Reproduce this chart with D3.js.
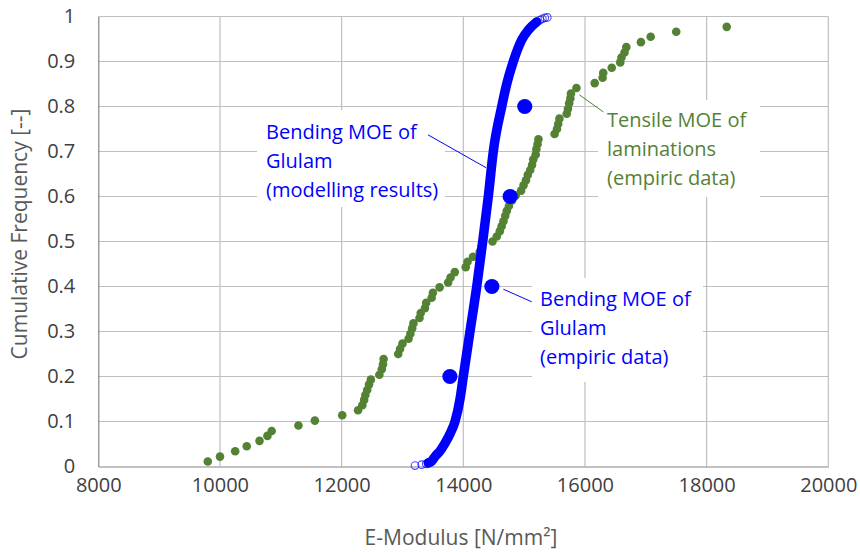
<!DOCTYPE html>
<html><head><meta charset="utf-8">
<script src="https://cdn.jsdelivr.net/npm/d3@7"></script>
<style>body{margin:0;background:#fff} svg text{font-family:"Open Sans", sans-serif}</style>
</head><body><svg id="c" width="860" height="552"></svg>
<script>
const xTicks = [8000,10000,12000,14000,16000,18000,20000];
const yTicks = [0,0.1,0.2,0.3,0.4,0.5,0.6,0.7,0.8,0.9,1];

// Tensile MOE of laminations (empiric data)
const tensileX = [9800,10000,10250,10440,10650,10780,10850,11290,11560,12010,12270,12340,12370,12390,12420,12450,12480,12620,12660,12680,12690,12930,12960,13000,13100,13130,13160,13180,13280,13300,13370,13390,13480,13500,13610,13750,13790,13860,14040,14070,14160,14270,14300,14480,
14550,14600,14630,14660,14690,14715,14750,14800,14860,14950,14990,15030,15060,15100,15130,15150,15190,15200,15220,15235,15500,15540,15560,15580,15700,15720,15740,15760,15770,15860,16160,16290,16300,16440,16580,16600,16650,16680,16920,17080,17500,18330];
const tensileY = [0.011,0.022,0.034,0.045,0.057,0.068,0.079,0.091,0.102,0.114,0.125,0.136,0.148,0.159,0.170,0.182,0.193,0.204,0.216,0.227,0.239,0.250,0.261,0.273,0.284,0.295,0.307,0.318,0.330,0.341,0.352,0.364,0.375,0.386,0.398,0.409,0.420,0.432,0.443,0.455,0.466,0.477,0.489,0.500,
0.511,0.523,0.534,0.545,0.557,0.568,0.579,0.591,0.602,0.613,0.625,0.636,0.648,0.659,0.670,0.682,0.693,0.705,0.716,0.727,0.739,0.750,0.761,0.773,0.784,0.795,0.807,0.818,0.829,0.841,0.852,0.864,0.875,0.886,0.898,0.909,0.920,0.932,0.943,0.955,0.966,0.977];

// Bending MOE of Glulam (modelling results)
const modelX = [13425,13481,13535,13620,13700,13790,13864,13946,14000,14110,14221,14319,14411,14493,14632,14714,14822,14960,15069,15207];
const modelY = [0.008,0.012,0.022,0.035,0.052,0.075,0.1,0.15,0.2,0.3,0.4,0.5,0.6,0.7,0.8,0.85,0.9,0.948,0.97,0.988];
const modelTailX = [13206,13316,13390,13425,13481,15207,15260,15300,15340,15381];
const modelTailY = [0.002,0.004,0.006,0.008,0.012,0.988,0.992,0.995,0.997,0.998];

// Bending MOE of Glulam (empiric data)
const empiricX = [13780,14470,14770,15010];
const empiricY = [0.2,0.4,0.6,0.8];

const modelLabel = ["Bending MOE of","Glulam","(modelling results)"];
const tensileLabel = ["Tensile MOE of","laminations","(empiric data)"];
const empiricLabel = ["Bending MOE of","Glulam","(empiric data)"];

const BLUE = "#0000FF", GREEN = "#548235", GRID = "#BFBFBF", AXIS = "#868686", TXT = "#404040";

const svg = d3.select("#c");
const x = d3.scaleLinear().domain([8000,20000]).range([98.3,828.3]);
const y = d3.scaleLinear().domain([0,1]).range([466.5,16.5]);

// gridlines
svg.append("g").selectAll("line").data(yTicks.filter(d=>d>0)).join("line")
  .attr("x1",x(8000)).attr("x2",x(20000)).attr("y1",d=>y(d)).attr("y2",d=>y(d))
  .attr("stroke",GRID).attr("stroke-width",1.2);
svg.append("g").selectAll("line").data(xTicks.filter(d=>d>8000)).join("line")
  .attr("y1",y(0)).attr("y2",y(1)).attr("x1",d=>x(d)).attr("x2",d=>x(d))
  .attr("stroke",GRID).attr("stroke-width",1.2);

// axes
const xAxis = svg.append("g").attr("transform",`translate(0,${y(0)})`)
  .call(d3.axisBottom(x).tickValues(xTicks).tickSize(0).tickPadding(23).tickFormat(d3.format("d")));
const yAxis = svg.append("g").attr("transform",`translate(${x(8000)},0)`)
  .call(d3.axisLeft(y).tickValues(yTicks).tickSize(0).tickPadding(23).tickFormat(d=>d3.format("")(d)));
[xAxis,yAxis].forEach(a=>{
  a.select(".domain").attr("stroke",AXIS).attr("stroke-width",1.2);
  a.selectAll("text").attr("fill",TXT).style("font-size","20px").style("font-family","'Open Sans', sans-serif");
});
xAxis.selectAll("text").attr("dy","0.1em");

// label background boxes
const boxes = [[257,110,445,207],[598,100,760,197],[532,278,703,382]];
svg.append("g").selectAll("rect").data(boxes).join("rect")
  .attr("x",d=>d[0]).attr("y",d=>d[1]).attr("width",d=>d[2]-d[0]).attr("height",d=>d[3]-d[1])
  .attr("fill","#fff");

// tensile points
svg.append("g").selectAll("circle").data(tensileX.map((v,i)=>[v,tensileY[i]])).join("circle")
  .attr("cx",d=>x(d[0])).attr("cy",d=>y(d[1])).attr("r",4.3).attr("fill",GREEN);

// model curve
const line = d3.line().x(d=>x(d[0])).y(d=>y(d[1])).curve(d3.curveMonotoneX);
svg.append("path").datum(modelX.map((v,i)=>[v,modelY[i]]))
  .attr("d",line).attr("fill","none").attr("stroke",BLUE).attr("stroke-width",9.5)
  .attr("stroke-linecap","round").attr("stroke-linejoin","round");
svg.append("g").selectAll("circle").data(modelTailX.map((v,i)=>[v,modelTailY[i]])).join("circle")
  .attr("cx",d=>x(d[0])).attr("cy",d=>y(d[1])).attr("r",3.8)
  .attr("fill","none").attr("stroke",BLUE).attr("stroke-opacity",0.7).attr("stroke-width",1.1);

// empiric points
svg.append("g").selectAll("circle").data(empiricX.map((v,i)=>[v,empiricY[i]])).join("circle")
  .attr("cx",d=>x(d[0])).attr("cy",d=>y(d[1])).attr("r",7.6).attr("fill",BLUE);

// leader lines (data coordinates)
const leaders = [
  [[13420,0.737],[14374,0.664],BLUE],
  [[15908,0.826],[16302,0.788],GREEN],
  [[14658,0.394],[15125,0.366],BLUE]
];
svg.append("g").selectAll("line").data(leaders).join("line")
  .attr("x1",d=>x(d[0][0])).attr("y1",d=>y(d[0][1])).attr("x2",d=>x(d[1][0])).attr("y2",d=>y(d[1][1]))
  .attr("stroke",d=>d[2]).attr("stroke-width",1);

// labels
function label(lines, lx, ly, color){
  const t = svg.append("text").attr("x",lx).attr("y",ly).attr("fill",color).style("font-size","20px");
  lines.forEach((s,i)=>t.append("tspan").attr("x",lx).attr("y",ly+i*29).text(s));
}
label(modelLabel, 266, 139, BLUE);
label(tensileLabel, 607, 127, GREEN);
label(empiricLabel, 540, 306, BLUE);

// axis titles
svg.append("text").attr("x",461).attr("y",545).attr("text-anchor","middle")
  .attr("fill","#595959").style("font-size","21px").text("E-Modulus [N/mm²]");
svg.append("text").attr("transform","translate(27,234) rotate(-90)").attr("text-anchor","middle")
  .attr("fill","#595959").style("font-size","21px").text("Cumulative Frequency [--]");
</script></body></html>
